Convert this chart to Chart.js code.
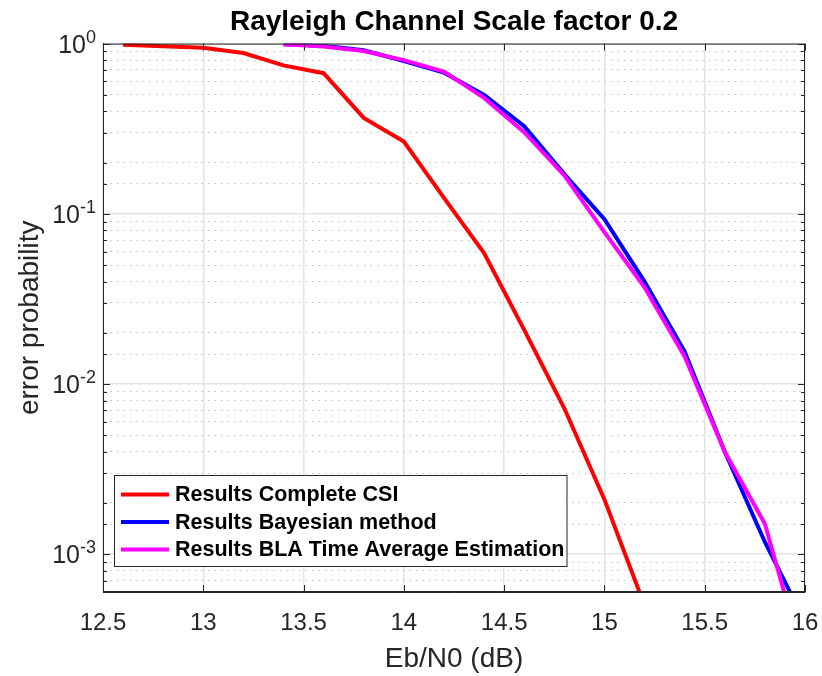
<!DOCTYPE html>
<html>
<head>
<meta charset="utf-8">
<script src="https://cdn.jsdelivr.net/npm/chart.js@4.4.0/dist/chart.umd.min.js"></script>
<style>
  html, body { margin: 0; padding: 0; background: #fff; }
  #wrap { width: 822px; height: 676px; }
</style>
</head>
<body>
<div id="wrap"><canvas id="ber" width="822" height="676"></canvas></div>
<script>
// Eb/N0 in dB
const ebn0Csi = [12.6, 12.8, 13.0, 13.2, 13.4, 13.6, 13.8, 14.0, 14.2, 14.4, 14.6, 14.8, 15.0, 15.2]
const ebn0Est = [13.4, 13.6, 13.8, 14.0, 14.2, 14.4, 14.6, 14.8, 15.0, 15.2, 15.4, 15.6, 15.8, 16.0]

// error probability per series
const perCompleteCsi = [0.986, 0.966, 0.944, 0.88, 0.745, 0.67, 0.366, 0.266, 0.124, 0.0588, 0.0208, 0.0072, 0.0021, 0.0005]
const perBayesian = [0.99, 0.97, 0.913, 0.79, 0.675, 0.50, 0.327, 0.171, 0.093, 0.040, 0.0155, 0.0040, 0.00118, 0.0004]
const perBlaTimeAvg = [0.99, 0.962, 0.905, 0.80, 0.685, 0.48, 0.302, 0.168, 0.078, 0.037, 0.0145, 0.0040, 0.00151, 0.00022]

const seriesNames = ['Results Complete CSI', 'Results Bayesian method', 'Results BLA Time Average Estimation']
const seriesColors = ['#ff0000', '#0000ff', '#ff00ff']

const xTicks = [12.5, 13, 13.5, 14, 14.5, 15, 15.5, 16]
const yDecades = [1e-3, 1e-2, 1e-1, 1]

const FONT = "'Liberation Sans', Arial, Helvetica, sans-serif"
const INK = '#262626'

const isDecade = v => v > 0 && Math.abs(Math.log10(v) - Math.round(Math.log10(v))) < 1e-6
const pts = (xs, ys) => xs.map((x, i) => ({ x, y: ys[i] }))

// box, inward ticks, power-of-ten labels and legend like MATLAB
const matlabAxes = {
  id: 'matlabAxes',
  afterDraw(chart) {
    const { ctx, chartArea: a, scales: { x, y } } = chart
    ctx.save()
    ctx.strokeStyle = INK
    ctx.lineWidth = 1
    ctx.strokeRect(a.left + 0.5, a.top + 0.5, a.right - a.left - 1, a.bottom - a.top - 1)

    ctx.beginPath()
    xTicks.forEach(v => {
      const px = Math.round(x.getPixelForValue(v)) + 0.5
      ctx.moveTo(px, a.bottom); ctx.lineTo(px, a.bottom - 7)
      ctx.moveTo(px, a.top); ctx.lineTo(px, a.top + 7)
    })
    y.ticks.forEach(t => {
      const py = Math.round(y.getPixelForValue(t.value)) + 0.5
      const len = isDecade(t.value) ? 7 : 4
      ctx.moveTo(a.left, py); ctx.lineTo(a.left + len, py)
      ctx.moveTo(a.right, py); ctx.lineTo(a.right - len, py)
    })
    ctx.stroke()

    // y labels 10^n
    ctx.fillStyle = INK
    ctx.textBaseline = 'alphabetic'
    yDecades.forEach(v => {
      const py = y.getPixelForValue(v)
      const exp = String(Math.round(Math.log10(v)))
      ctx.font = `18px ${FONT}`
      const ew = ctx.measureText(exp).width
      const right = a.left - 7
      ctx.textAlign = 'right'
      ctx.fillText(exp, right, py - 1)
      ctx.font = `25px ${FONT}`
      ctx.fillText('10', right - ew, py + 9)
    })

    // legend
    ctx.font = `bold 21.5px ${FONT}`
    const tw = Math.max(...seriesNames.map(s => ctx.measureText(s).width))
    const lx = a.left + 11, lw = 61 + tw + 2, lh = 91
    const ly = a.bottom - 26 - lh
    ctx.fillStyle = '#fff'
    ctx.fillRect(lx, ly, lw, lh)
    ctx.strokeStyle = INK
    ctx.strokeRect(lx + 0.5, ly + 0.5, lw, lh)
    ctx.textAlign = 'left'
    ctx.textBaseline = 'middle'
    seriesNames.forEach((name, i) => {
      const ry = ly + 19.5 + i * 27.5
      ctx.strokeStyle = seriesColors[i]
      ctx.lineWidth = 4
      ctx.beginPath(); ctx.moveTo(lx + 7, ry); ctx.lineTo(lx + 55, ry); ctx.stroke()
      ctx.fillStyle = '#000'
      ctx.fillText(name, lx + 61, ry + 1)
    })
    ctx.restore()
  }
}

new Chart(document.getElementById('ber'), {
  type: 'line',
  data: {
    datasets: [
      { label: seriesNames[0], data: pts(ebn0Csi, perCompleteCsi), borderColor: seriesColors[0], order: 2 },
      { label: seriesNames[1], data: pts(ebn0Est, perBayesian), borderColor: seriesColors[1], order: 1 },
      { label: seriesNames[2], data: pts(ebn0Est, perBlaTimeAvg), borderColor: seriesColors[2], order: 0 },
    ]
  },
  options: {
    responsive: false,
    animation: false,
    devicePixelRatio: 1,
    layout: { padding: { right: 17 } },
    elements: {
      line: { borderWidth: 4, tension: 0, fill: false, borderJoinStyle: 'miter' },
      point: { radius: 0 }
    },
    plugins: {
      legend: { display: false },
      tooltip: { enabled: false },
      title: {
        display: true,
        text: 'Rayleigh Channel Scale factor 0.2',
        color: '#000',
        fullSize: false,
        font: { size: 28, weight: 'bold', family: FONT },
        padding: { top: 5, bottom: 5 }
      }
    },
    scales: {
      x: {
        type: 'linear',
        min: 12.5, max: 16,
        afterBuildTicks: s => { s.ticks = xTicks.map(v => ({ value: v })) },
        afterFit: s => { s.height = 84; s.paddingLeft = 0; s.paddingRight = 0 },
        grid: { color: '#e3e3e3', lineWidth: 1.5, drawTicks: false },
        border: { color: INK, width: 1 },
        ticks: {
          color: INK,
          padding: 17,
          font: { size: 24, family: FONT },
          maxRotation: 0,
          autoSkip: false,
          callback: v => String(Number(v.toFixed(1)))
        },
        title: {
          display: true,
          text: 'Eb/N0 (dB)',
          color: INK,
          font: { size: 28, family: FONT },
          padding: { top: 0, bottom: 0 }
        }
      },
      y: {
        type: 'logarithmic',
        min: 6e-4, max: 1,
        afterFit: s => { s.width = 103 },
        grid: {
          color: c => (c.tick && isDecade(c.tick.value)) ? '#e3e3e3' : '#c4c4c4',
          lineWidth: c => (c.tick && isDecade(c.tick.value)) ? 1.5 : 1,
          drawTicks: false
        },
        border: {
          color: INK, width: 1,
          dash: c => (c.tick && !isDecade(c.tick.value)) ? [1.5, 5] : []
        },
        ticks: { display: false, autoSkip: false },
        title: {
          display: true,
          text: 'error probability',
          color: INK,
          font: { size: 28, family: FONT },
          padding: { top: 13, bottom: 0 }
        }
      }
    }
  },
  plugins: [matlabAxes]
})
</script>
</body>
</html>
